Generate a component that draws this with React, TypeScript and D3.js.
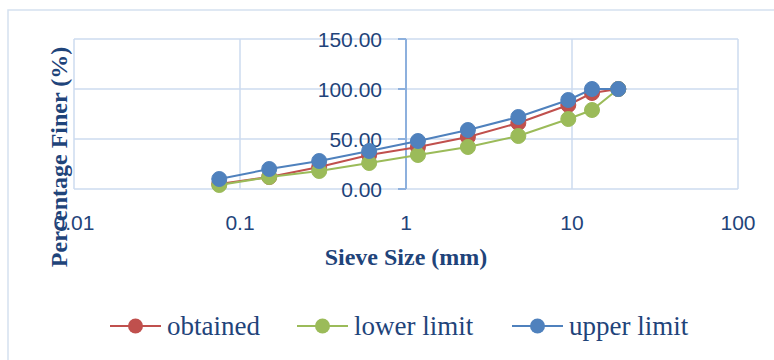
import * as d3 from "d3";

const sieveSizes = [0.075, 0.15, 0.3, 0.6, 1.18, 2.36, 4.75, 9.5, 13.2, 19];
const obtained = [5, 12, 22, 34, 42, 52, 66, 84, 96, 100];
const lowerLimit = [4, 12, 18, 26, 34, 42, 53, 70, 79, 100];
const upperLimit = [10, 20, 28, 38, 48, 59, 72, 89, 100, 100];
const xTicks = [0.01, 0.1, 1, 10, 100];
const yTicks = [0, 50, 100, 150];

const series = [
  { name: "obtained", values: obtained, color: "#C0504D" },
  { name: "lower limit", values: lowerLimit, color: "#9BBB59" },
  { name: "upper limit", values: upperLimit, color: "#4F81BD" },
];

const width = 774;
const height = 360;
const textColor = "#1F447A";
const gridColor = "#CCDBEF";
const axisColor = "#8DB0DD";

export default function App() {
  const x = d3.scaleLog().domain([0.01, 100]).range([74, 738]);
  const y = d3.scaleLinear().domain([0, 150]).range([189, 39]);

  const line = d3
    .line<number>()
    .x((_, i) => x(sieveSizes[i]))
    .y((d) => y(d));

  const legendX = [110, 297, 512];

  return (
    <svg
      width={width}
      height={height}
      style={{ position: "absolute", left: 0, top: 0, background: "#fff" }}
    >
      <rect x={8} y={10} width={800} height={400} fill="#fff" stroke="#D5E1F0" strokeWidth={1.5} />

      {/* gridlines */}
      {yTicks.map((t) => (
        <line key={"gy" + t} x1={x(0.01)} x2={x(100)} y1={y(t)} y2={y(t)} stroke={gridColor} strokeWidth={1.5} />
      ))}
      {xTicks.filter((t) => t !== 1).map((t) => (
        <line key={"gx" + t} x1={x(t)} x2={x(t)} y1={y(150)} y2={y(0)} stroke={gridColor} strokeWidth={1.5} />
      ))}

      {/* y axis at x = 1 */}
      <line x1={x(1)} x2={x(1)} y1={y(150)} y2={y(0)} stroke={axisColor} strokeWidth={2} />
      {yTicks.map((t) => (
        <line key={"tk" + t} x1={x(1) - 8} x2={x(1)} y1={y(t)} y2={y(t)} stroke={axisColor} strokeWidth={2} />
      ))}
      {yTicks.map((t) => (
        <text
          key={"yl" + t}
          x={x(1) - 24}
          y={y(t)}
          textAnchor="end"
          dominantBaseline="central"
          fontFamily="Liberation Sans, Arial, sans-serif"
          fontSize={21}
          fill={textColor}
        >
          {t.toFixed(2)}
        </text>
      ))}

      {/* x tick labels */}
      {xTicks.map((t) => (
        <text
          key={"xl" + t}
          x={x(t)}
          y={222}
          textAnchor="middle"
          dominantBaseline="central"
          fontFamily="Liberation Sans, Arial, sans-serif"
          fontSize={21}
          fill={textColor}
        >
          {String(t)}
        </text>
      ))}

      {/* series */}
      {series.map((s) => (
        <g key={s.name}>
          <path d={line(s.values) ?? ""} fill="none" stroke={s.color} strokeWidth={2} />
          {s.values.map((v, i) => (
            <circle key={i} cx={x(sieveSizes[i])} cy={y(v)} r={7.5} fill={s.color} stroke={s.color} strokeWidth={1} />
          ))}
        </g>
      ))}

      {/* axis titles */}
      <text
        x={406}
        y={257}
        textAnchor="middle"
        dominantBaseline="central"
        fontFamily="Liberation Serif, Times New Roman, serif"
        fontWeight="bold"
        fontSize={24}
        fill={textColor}
      >
        Sieve Size (mm)
      </text>
      <text
        transform="translate(59,157) rotate(-90)"
        textAnchor="middle"
        dominantBaseline="central"
        fontFamily="Liberation Serif, Times New Roman, serif"
        fontWeight="bold"
        fontSize={24}
        fill={textColor}
      >
        Percentage Finer (%)
      </text>

      {/* legend */}
      {series.map((s, i) => (
        <g key={"lg" + s.name} transform={`translate(${legendX[i]},326)`}>
          <line x1={0} x2={51} y1={0} y2={0} stroke={s.color} strokeWidth={2} />
          <circle cx={25.5} cy={0} r={7.5} fill={s.color} />
          <text
            x={57}
            y={0}
            dominantBaseline="central"
            fontFamily="Liberation Serif, Times New Roman, serif"
            fontSize={27}
            fill={textColor}
          >
            {s.name}
          </text>
        </g>
      ))}
    </svg>
  );
}
